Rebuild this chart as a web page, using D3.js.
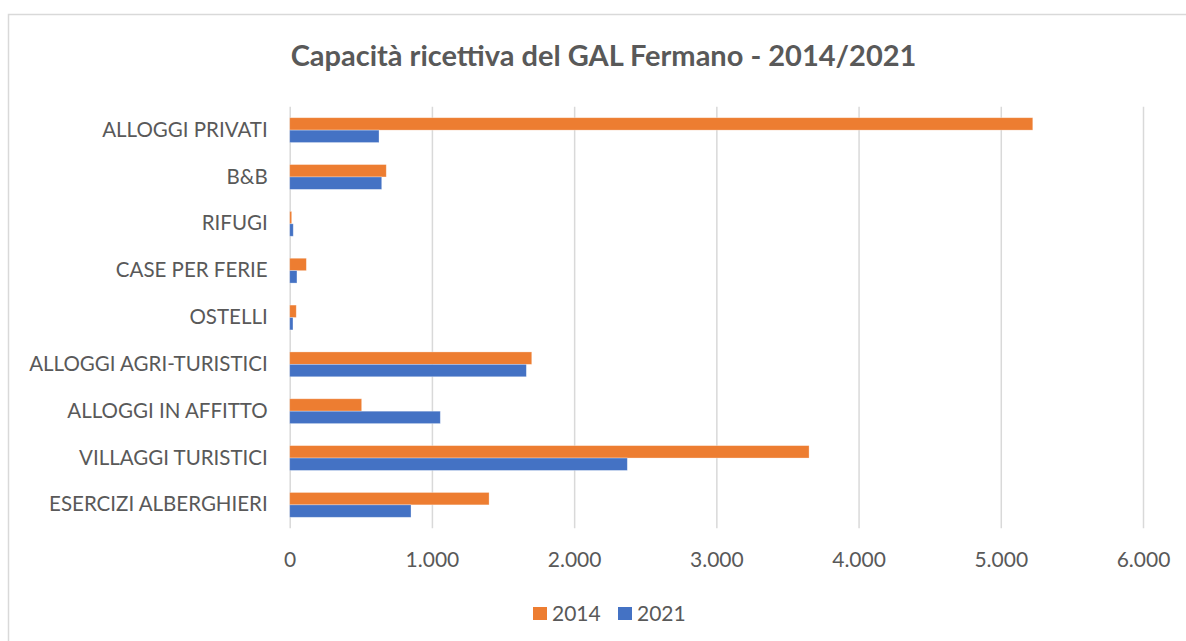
<!DOCTYPE html>
<html lang="it">
<head>
<meta charset="UTF-8">
<title>Capacità ricettiva del GAL Fermano - 2014/2021</title>
<script src="https://cdnjs.cloudflare.com/ajax/libs/d3/7.8.5/d3.min.js"></script>
<style>
  body { margin: 0; background: #fff; }
  svg { display: block; }
  .frame { fill: #fff; stroke: #d9d9d9; stroke-width: 1.5px; }
  .title { font-family: Lato, "Liberation Sans", sans-serif; font-weight: bold; fill: #595959; }
  .axis text, .legend text { font-family: Lato, "Liberation Sans", sans-serif; fill: #595959; }
  .grid line { stroke: #d9d9d9; stroke-width: 1.5px; }
  .domain { display: none; }
</style>
</head>
<body>
<div id="chart"></div>
<script>
// categories listed bottom to top, as in the source sheet
const categories = ["ESERCIZI ALBERGHIERI", "VILLAGGI TURISTICI", "ALLOGGI IN AFFITTO",
  "ALLOGGI AGRI-TURISTICI", "OSTELLI", "CASE PER FERIE", "RIFUGI", "B&B", "ALLOGGI PRIVATI"];
const years = ["2014", "2021"];
const values2014 = [1402, 3652, 506, 1702, 46, 117, 14, 679, 5225];
const values2021 = [853, 2374, 1059, 1664, 23, 51, 25, 647, 628];
const xTicks = [0, 1000, 2000, 3000, 4000, 5000, 6000];
const colors = ["#ED7D31", "#4472C4"];

const W = 1186, H = 641;
const margin = { top: 106.7, left: 289.7, right: 43, bottom: 112.7 };
const width = W - margin.left - margin.right;
const height = H - margin.top - margin.bottom;

const svg = d3.select("#chart").append("svg")
  .attr("width", W)
  .attr("height", H);

svg.append("rect").attr("class", "frame")
  .attr("x", 8.5).attr("y", 14.5)
  .attr("width", W + 20).attr("height", H + 20);

svg.append("text").attr("class", "title")
  .attr("x", 603.5).attr("y", 66)
  .attr("text-anchor", "middle")
  .style("font-size", "29px")
  .text("Capacità ricettiva del GAL Fermano - 2014/2021");

const g = svg.append("g").attr("transform", `translate(${margin.left},${margin.top})`);

const it = d3.formatLocale({ decimal: ",", thousands: ".", grouping: [3], currency: ["€", ""] });
const fmt = it.format(",.0f");

const x = d3.scaleLinear().domain([0, 6000]).range([0, width]);
const y = d3.scaleBand().domain(categories.slice().reverse()).range([0, height])
  .paddingInner(0.47).paddingOuter(0.235);
const ySub = d3.scaleBand().domain(years).range([0, y.bandwidth()]);

// gridlines
g.append("g").attr("class", "grid")
  .call(d3.axisBottom(x).tickValues(xTicks).tickSize(height).tickFormat(""))
  .call(s => s.select(".domain").remove());

// x labels
g.append("g").attr("class", "axis")
  .attr("transform", `translate(0,${height})`)
  .call(d3.axisBottom(x).tickValues(xTicks).tickSize(0).tickPadding(24).tickFormat(fmt))
  .call(s => s.selectAll("text").style("font-size", "21px"));

// y labels
g.append("g").attr("class", "axis")
  .call(d3.axisLeft(y).tickSize(0).tickPadding(22))
  .call(s => s.selectAll("text").style("font-size", "20.5px"));

const rows = categories.map((c, i) => ({ cat: c, vals: [values2014[i], values2021[i]] }));

const grp = g.selectAll(".cat").data(rows).enter().append("g")
  .attr("transform", d => `translate(0,${y(d.cat)})`);

grp.selectAll("rect")
  .data(d => d.vals.map((v, j) => ({ year: years[j], v, j })))
  .enter().append("rect")
  .attr("x", x(0))
  .attr("y", d => ySub(d.year))
  .attr("width", d => x(d.v) - x(0))
  .attr("height", ySub.bandwidth())
  .attr("fill", d => colors[d.j])
  .attr("stroke", "#fff").attr("stroke-opacity", 0.4).attr("stroke-width", 0.75);

// legend
const legend = svg.append("g").attr("class", "legend");
const legX = [533, 618];
years.forEach((yr, i) => {
  legend.append("rect")
    .attr("x", legX[i]).attr("y", 607)
    .attr("width", 14).attr("height", 13)
    .attr("fill", colors[i]);
  legend.append("text")
    .attr("x", legX[i] + 19).attr("y", 621)
    .style("font-size", "21px")
    .text(yr);
});
</script>
</body>
</html>
